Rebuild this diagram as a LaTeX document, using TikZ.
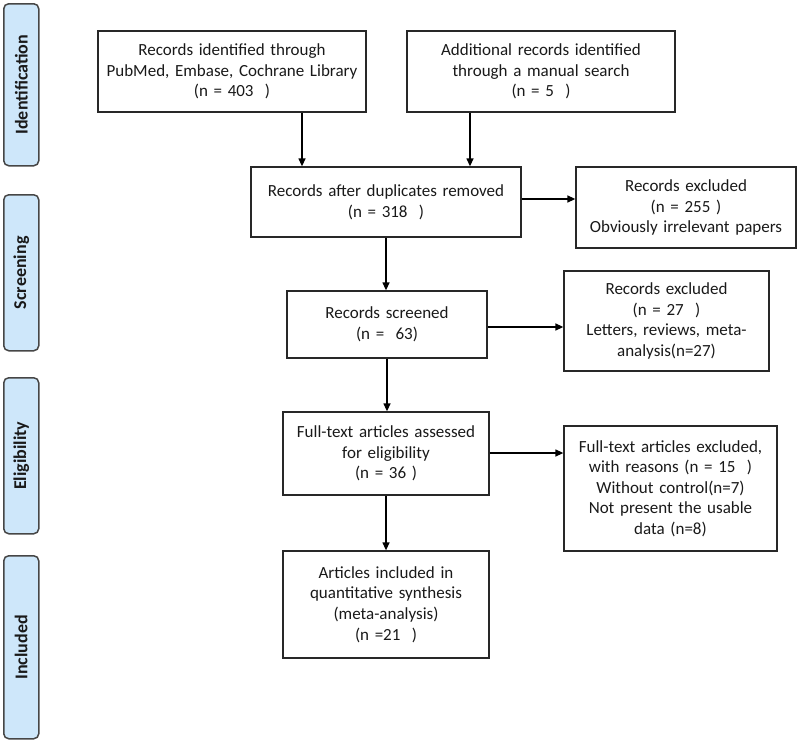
\documentclass[tikz,border=0pt]{standalone}
\usepackage{fontspec}
\setmainfont{Carlito}
\usetikzlibrary{arrows.meta}
\definecolor{stagefill}{RGB}{206,231,250}
\definecolor{stageline}{RGB}{70,70,70}
\definecolor{boxline}{RGB}{40,40,40}
\definecolor{txt}{RGB}{25,25,25}
\tikzset{
  stagebar/.style={draw=stageline,line width=1.5pt,fill=stagefill,rounded corners=5pt,anchor=north west,inner sep=0pt},
  stagetext/.style={rotate=90,font=\fontsize{18}{20}\selectfont\bfseries,text=txt,inner sep=0pt},
  flowbox/.style={draw=boxline,line width=1.3pt,align=center,inner sep=0pt,text=txt,font=\fontsize{17}{20.6}\selectfont},
  arr/.style={draw=black,line width=1.3pt,-{Triangle[length=8pt,width=7pt]}}
}
\begin{document}
\begin{tikzpicture}[x=1pt,y=-1pt]
\useasboundingbox (0,0) rectangle (800,744);
% stage bars
\node[stagebar,minimum width=35pt,minimum height=162pt] (sId) at (3,3) {};
\node[stagetext] (tId) at (sId.center) {Identification};
\node[stagebar,minimum width=35pt,minimum height=156pt] (sSc) at (3,194) {};
\node[stagetext] (tSc) at (sSc.center) {Screening};
\node[stagebar,minimum width=35pt,minimum height=156pt] (sEl) at (3,377) {};
\node[stagetext] (tEl) at (sEl.center) {Eligibility};
\node[stagebar,minimum width=35pt,minimum height=183pt] (sIn) at (3,555) {};
\node[stagetext] (tIn) at (sIn.center) {Included};
% boxes
\node[flowbox,minimum width=268pt,minimum height=81pt,text width=262pt] (b1) at (232,71.5)
  {Records identified through\\PubMed, Embase, Cochrane Library\\(n = 403~~)};
\node[flowbox,minimum width=268pt,minimum height=81pt,text width=262pt] (b2) at (541,71.5)
  {Additional records identified\\through a manual search\\(n = 5~~)};
\node[flowbox,minimum width=270pt,minimum height=70pt,text width=262pt] (b3) at (386,202)
  {Records after duplicates removed\\(n = 318~~)};
\node[flowbox,minimum width=220pt,minimum height=81pt,text width=214pt] (b4) at (686,207.5)
  {Records excluded\\(n = 255 )\\Obviously irrelevant papers};
\node[flowbox,minimum width=200pt,minimum height=67pt,text width=194pt] (b5) at (387,324.5)
  {Records screened\\(n = ~63)};
\node[flowbox,minimum width=205pt,minimum height=100pt,text width=199pt] (b6) at (666.5,321)
  {Records excluded\\(n = 27~~)\\Letters, reviews, meta-\\analysis(n=27)};
\node[flowbox,minimum width=206pt,minimum height=83pt,text width=200pt] (b7) at (386,453.5)
  {Full-text articles assessed\\for eligibility\\(n = 36 )};
\node[flowbox,minimum width=213pt,minimum height=125pt,text width=207pt] (b8) at (670.5,488.5)
  {Full-text articles excluded,\\with reasons (n = 15~~)\\Without control(n=7)\\Not present the usable\\data (n=8)};
\node[flowbox,minimum width=206pt,minimum height=107pt,text width=200pt] (b9) at (386,604.5)
  {Articles included in\\quantitative synthesis\\(meta-analysis)\\(n =21~~)};
% helper coordinates
\coordinate (xa) at (302,0);
\coordinate (xb) at (470,0);
\coordinate (ya) at (0,199);
\coordinate (yb) at (0,327);
\coordinate (yc) at (0,453);
% connectors
\draw[arr] (xa |- b1.south) -- (xa |- b3.north);
\draw[arr] (xb |- b2.south) -- (xb |- b3.north);
\draw[arr] (b3.south) -- (b3.south |- b5.north);
\draw[arr] (b3.east |- ya) -- (b4.west |- ya);
\draw[arr] (b5.south) -- (b5.south |- b7.north);
\draw[arr] (b5.east |- yb) -- (b6.west |- yb);
\draw[arr] (b7.south) -- (b7.south |- b9.north);
\draw[arr] (b7.east |- yc) -- (b8.west |- yc);
\end{tikzpicture}
\end{document}
